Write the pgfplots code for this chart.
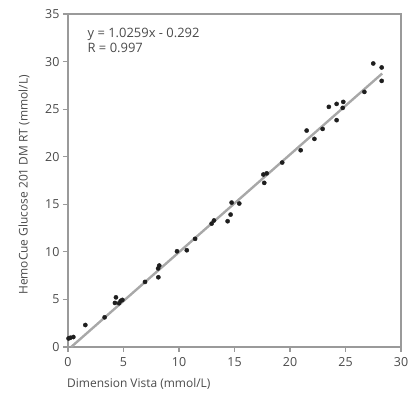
\documentclass[border=0pt]{standalone}
\usepackage{pgfplots}
\pgfplotsset{compat=1.18}
\usepackage{fontspec}
\setmainfont{Open Sans}[Scale=1.0]
\definecolor{axgray}{HTML}{9A9A9A}
\definecolor{txtgray}{HTML}{4A4A4A}
\definecolor{fitgray}{HTML}{A8A8A8}
\definecolor{dotc}{HTML}{1E1E1E}
\begin{document}
\begin{tikzpicture}[x=1bp,y=1bp]
\path[use as bounding box] (0,0) rectangle (411,398);
\begin{axis}[
  at={(68bp,51bp)}, anchor=south west,
  scale only axis, width=333bp, height=333bp,
  xmin=0, xmax=30, ymin=0, ymax=35,
  xtick={0,5,...,30}, ytick={0,5,...,35},
  axis line style={axgray, line width=1.3bp},
  tick style={axgray, line width=1.1bp},
  tick align=outside, major tick length=5bp,
  axis x line*=bottom, axis y line*=left,
  ticklabel style={font=\fontsize{12.5}{14}\selectfont, text=txtgray},
  /pgf/number format/assume math mode=true,
  xticklabel style={yshift=-2bp},
  clip=false,
]
\draw[axgray, line width=1.3bp] (rel axis cs:0,1) -- (rel axis cs:1,1) -- (rel axis cs:1,0);
\addplot[fitgray, line width=2.4bp] coordinates {(0.285,0) (28.3,28.742)};
\addplot[only marks, mark=*, mark size=2.1bp, mark options={fill=dotc, draw=dotc}] coordinates {
(0.05,0.9) (0.2,0.97) (0.48,1.05)
(1.56,2.31) (3.3,3.12)
(4.32,5.22) (4.23,4.63) (4.6,4.6) (4.75,4.85) (4.9,4.95)
(6.94,6.84)
(8.14,7.33) (8.12,8.26) (8.22,8.56)
(9.82,10.06) (10.7,10.17) (11.45,11.37)
(12.94,12.97) (13.15,13.3)
(14.38,13.22) (14.65,13.92) (14.74,15.18) (15.43,15.08)
(17.6,18.13) (17.9,18.25) (17.68,17.25)
(19.3,19.39) (20.96,20.68) (21.5,22.75) (22.2,21.87) (22.94,22.92)
(23.5,25.24) (24.2,25.55) (24.8,25.76) (24.75,25.13) (24.2,23.84)
(26.7,26.81) (27.5,29.8) (28.26,29.38) (28.26,27.97)
};
\node[anchor=north west, align=left, text=txtgray, font=\fontsize{13}{15.5}\selectfont, inner sep=0pt] at (axis cs:1.75,33.55) {y = 1.0259x - 0.292\\R = 0.997};
\end{axis}
\node[rotate=90, text=txtgray, font=\fontsize{12}{14}\selectfont] at (24,213) {HemoCue Glucose 201 DM RT (mmol/L)};
\node[anchor=base west, text=txtgray, font=\fontsize{12}{14}\selectfont, inner sep=0pt] at (67,11) {Dimension Vista (mmol/L)};
\end{tikzpicture}
\end{document}
